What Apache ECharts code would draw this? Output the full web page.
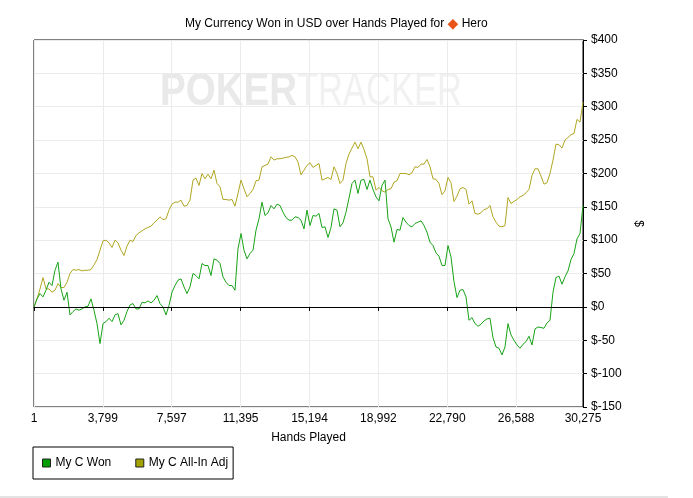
<!DOCTYPE html>
<html><head><meta charset="utf-8">
<script src="https://cdn.jsdelivr.net/npm/echarts@6/dist/echarts.min.js"></script>
<style>html,body{margin:0;padding:0;background:#fff}#c{width:693px;height:498px}</style>
</head><body><div id="c"></div>
<script>
// Tick labels
const xTicks = [1, 3799, 7597, 11395, 15194, 18992, 22790, 26588, 30275];
const yMin = -150, yMax = 400, yStep = 50;
// Samples at evenly spaced hand counts between first and last hand
const firstHand = 1, lastHand = 30275;
const myCWon = [0,12,20,15,25,37,32,55,67,27,10,22,-12,-7,-3,-5,-3,0,1,12,-5,-25,-55,-25,-22,-17,-22,-12,-10,-27,-20,-7,3,5,-3,-3,7,6,9,6,10,17,5,0,-12,2,22,32,40,42,30,20,30,50,47,42,65,62,62,47,72,70,65,45,37,32,32,25,87,110,85,72,80,85,115,132,157,137,141,152,147,154,152,142,134,130,130,135,134,130,117,145,122,137,136,140,119,120,104,119,147,145,120,126,142,163,185,190,170,190,191,176,190,176,165,159,182,190,132,120,97,116,115,134,127,122,120,125,127,129,122,112,97,92,81,76,62,62,92,75,38,14,25,26,15,-20,-16,-25,-29,-26,-21,-18,-17,-46,-60,-62,-72,-60,-25,-42,-50,-57,-62,-56,-52,-44,-57,-33,-30,-31,-32,-24,-20,22,44,46,34,45,54,71,80,102,110,152];
const myCAllInAdj = [0,12,27,44,27,27,22,25,35,29,29,37,50,56,55,56,54,55,55,56,63,71,85,99,100,96,89,100,96,85,77,91,100,98,107,111,114,117,119,121,126,130,135,131,132,145,154,157,157,160,151,152,160,190,193,182,200,192,199,192,205,185,180,161,161,160,161,151,170,190,177,165,170,176,189,190,210,212,214,225,220,222,222,223,224,225,227,225,217,198,205,212,216,209,212,215,190,192,194,191,210,200,185,190,215,229,238,247,237,247,236,222,195,195,175,179,174,172,176,177,187,189,200,200,200,198,201,210,209,214,214,221,210,192,191,185,168,174,194,186,158,166,177,179,176,154,159,140,139,141,146,147,152,135,127,121,120,122,164,155,158,161,165,167,171,176,197,207,207,196,184,186,200,220,244,243,238,250,254,258,260,281,277,307];

const n = myCWon.length;
const hands = myCWon.map((_, i) => Math.round(firstHand + i * (lastHand - firstHand) / (n - 1)));
const wonData = hands.map((h, i) => [h, myCWon[i]]);
const adjData = hands.map((h, i) => [h, myCAllInAdj[i]]);

const FONT = 'Liberation Sans, Arial, sans-serif';
function textW(t, f) {
  const c = document.createElement('canvas').getContext('2d');
  c.font = f; return c.measureText(t).width;
}
const wmSize = 46;
const pokerScale = 137 / textW('POKER', 'bold ' + wmSize + 'px Liberation Sans');
const trackerScale = 165 / textW('TRACKER', wmSize + 'px Liberation Sans');

const chart = echarts.init(document.getElementById('c'), null, {renderer: 'canvas'});
chart.setOption({
  animation: false,
  backgroundColor: '#fff',
  textStyle: {fontFamily: FONT},
  title: {
    text: '{a|My Currency Won in USD over Hands Played for }{d|◆}{a| Hero}',
    left: 180, top: 12,
    textStyle: {
      fontWeight: 'normal',
      rich: {
        a: {fontSize: 12, color: '#000', fontFamily: FONT, fontWeight: 'normal'},
        d: {fontSize: 14, color: '#e8541a', fontFamily: 'DejaVu Sans', fontWeight: 'normal'}
      }
    }
  },
  graphic: [
    {type: 'text', z: -10, silent: true, left: 160, top: 69, scaleX: pokerScale,
     style: {text: 'POKER', font: 'bold ' + wmSize + 'px Liberation Sans', fill: '#e9e9e9'}},
    {type: 'text', z: -10, silent: true, left: 297, top: 69, scaleX: trackerScale,
     style: {text: 'TRACKER', font: wmSize + 'px Liberation Sans', fill: '#f1f1f1'}},
    {type: 'line', silent: true, shape: {x1: 0, y1: 497, x2: 668, y2: 497},
     style: {stroke: '#e3e3e3', lineWidth: 2}}
  ],
  legend: {
    left: 33, top: 447, orient: 'horizontal',
    padding: [10, 5, 10, 9],
    borderColor: '#000', borderWidth: 1,
    itemWidth: 8, itemHeight: 8, itemGap: 24,
    icon: 'rect',
    itemStyle: {borderColor: '#222', borderWidth: 1},
    textStyle: {fontSize: 12, color: '#000', fontFamily: FONT},
    data: ['My C Won', 'My C All-In Adj']
  },
  grid: {left: 34, right: 110, top: 40, bottom: 91, show: true, borderColor: '#000', borderWidth: 1, containLabel: false},
  xAxis: {
    type: 'value', min: firstHand, max: lastHand,
    name: 'Hands Played', nameLocation: 'middle', nameGap: 25,
    nameTextStyle: {fontSize: 12, color: '#000', fontFamily: FONT},
    axisLine: {show: true, lineStyle: {color: '#000', width: 1}},
    axisTick: {show: true, length: 4, customValues: xTicks, lineStyle: {color: '#000'}},
    axisLabel: {customValues: xTicks, fontSize: 12, color: '#000', margin: 6,
      formatter: v => Math.round(v).toLocaleString('en-US')},
    splitLine: {show: true, lineStyle: {color: '#ebebeb', width: 1}}
  },
  yAxis: {
    type: 'value', position: 'right', min: yMin, max: yMax, interval: yStep,
    name: '$', nameLocation: 'middle', nameGap: 46, nameRotate: -90,
    nameTextStyle: {fontSize: 12, color: '#000', fontFamily: FONT},
    axisLine: {show: true, lineStyle: {color: '#000', width: 1}},
    axisTick: {show: true, length: 4, lineStyle: {color: '#000'}},
    axisLabel: {fontSize: 12, color: '#000', margin: 8, formatter: v => '$' + v},
    splitLine: {show: true, lineStyle: {color: '#ebebeb', width: 1}}
  },
  series: [
    {
      name: 'My C Won', type: 'line', data: wonData, showSymbol: false, symbol: 'none',
      itemStyle: {color: '#009c00'}, lineStyle: {color: '#17a317', width: 1},
      z: 3,
      markLine: {silent: true, symbol: 'none', label: {show: false},
        lineStyle: {color: '#000', width: 1, type: 'solid'}, data: [{yAxis: 0}]}
    },
    {
      name: 'My C All-In Adj', type: 'line', data: adjData, showSymbol: false, symbol: 'none',
      itemStyle: {color: '#a3a300'}, lineStyle: {color: '#b1a622', width: 1},
      z: 2
    }
  ]
});
</script></body></html>
